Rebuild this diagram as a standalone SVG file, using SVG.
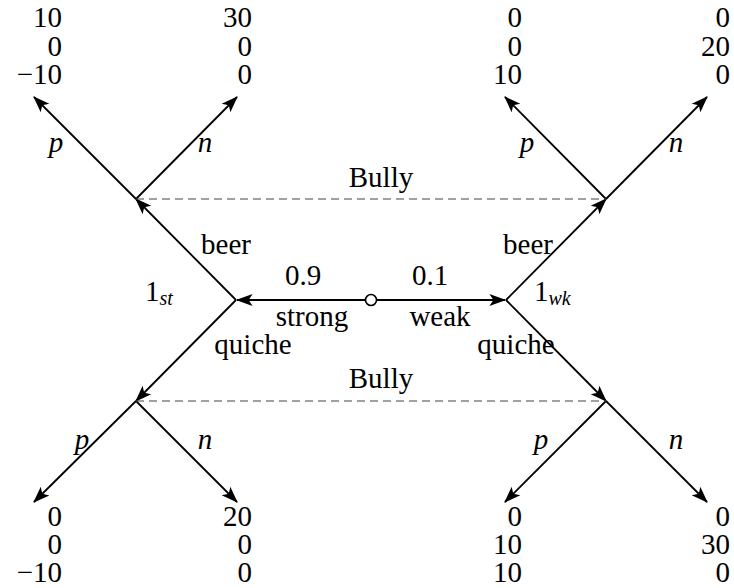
<svg xmlns="http://www.w3.org/2000/svg" width="734" height="588" viewBox="0 0 734 588">
<defs>
<marker id="ah" markerUnits="userSpaceOnUse" markerWidth="20" markerHeight="20" viewBox="-16 -8 18 16" refX="0" refY="0" orient="auto">
<path d="M1,0 L-14,-5.5 L-10.5,0 L-14,5.5 Z" fill="#000" stroke="none"/>
</marker>
</defs>
<rect width="734" height="588" fill="#fff"/>
<g id="connectors">
<g stroke="#000" stroke-width="1.8" fill="none" marker-end="url(#ah)">
<line x1="365" y1="300" x2="237" y2="300"/>
<line x1="377" y1="300" x2="505" y2="300"/>
<line x1="236" y1="300" x2="136" y2="199"/>
<line x1="236" y1="300" x2="136" y2="401"/>
<line x1="506" y1="300" x2="606" y2="199"/>
<line x1="506" y1="300" x2="606" y2="401"/>
<line x1="136" y1="199" x2="34" y2="97"/>
<line x1="136" y1="199" x2="237" y2="97"/>
<line x1="606" y1="199" x2="505" y2="97"/>
<line x1="606" y1="199" x2="707" y2="97"/>
<line x1="136" y1="401" x2="34" y2="502"/>
<line x1="136" y1="401" x2="237" y2="502"/>
<line x1="606" y1="401" x2="505" y2="502"/>
<line x1="606" y1="401" x2="707" y2="502"/>
</g>
<g stroke="#444" stroke-width="1.1" stroke-dasharray="8 5" fill="none">
<line x1="136" y1="199" x2="606" y2="199"/>
<line x1="136" y1="401" x2="606" y2="401"/>
</g>
<g font-size="29" fill="#000" text-anchor="middle">
<text font-family="Liberation Serif" font-style="italic" x="56" y="152">p</text>
<text font-family="Liberation Serif" font-style="italic" x="205" y="152">n</text>
<text font-family="Liberation Serif" font-style="italic" x="527" y="152">p</text>
<text font-family="Liberation Serif" font-style="italic" x="676" y="152">n</text>
<text font-family="Liberation Serif" font-style="italic" x="82" y="449">p</text>
<text font-family="Liberation Serif" font-style="italic" x="205" y="449">n</text>
<text font-family="Liberation Serif" font-style="italic" x="541" y="449">p</text>
<text font-family="Liberation Serif" font-style="italic" x="676" y="449">n</text>
<text font-family="Liberation Serif" x="226" y="254">beer</text>
<text font-family="Liberation Serif" x="528" y="254">beer</text>
<text font-family="Liberation Serif" x="253" y="354">quiche</text>
<text font-family="Liberation Serif" x="516" y="354">quiche</text>
<text font-family="Liberation Serif" x="303" y="285">0.9</text>
<text font-family="Liberation Serif" x="430" y="285">0.1</text>
<text font-family="Liberation Serif" x="312" y="326">strong</text>
<text font-family="Liberation Serif" x="440" y="326">weak</text>
<text font-family="Liberation Serif" x="381" y="187">Bully</text>
<text font-family="Liberation Serif" x="381" y="388">Bully</text>
</g>
</g>
<g id="chance">
<circle cx="371" cy="300" r="5.5" fill="#fff" stroke="#000" stroke-width="1.6"/>
</g>
<g id="strong-node">
<text font-family="Liberation Serif" font-size="29" x="145" y="301">1<tspan font-style="italic" font-size="20" dy="4">st</tspan></text>
</g>
<g id="weak-node">
<text font-family="Liberation Serif" font-size="29" x="534" y="301">1<tspan font-style="italic" font-size="20" dy="4">wk</tspan></text>
</g>
<g id="bully-beer-left"><circle cx="136" cy="199" r="0.1" fill="none"/></g>
<g id="bully-beer-right"><circle cx="606" cy="199" r="0.1" fill="none"/></g>
<g id="bully-quiche-left"><circle cx="136" cy="401" r="0.1" fill="none"/></g>
<g id="bully-quiche-right"><circle cx="606" cy="401" r="0.1" fill="none"/></g>
<g font-size="29" fill="#000" text-anchor="end">
<g id="leaf-1">
<text font-family="Liberation Serif" x="62" y="27">10</text><text font-family="Liberation Serif" x="62" y="56">0</text><text font-family="Liberation Serif" x="62" y="84">−10</text>
</g>
<g id="leaf-2">
<text font-family="Liberation Serif" x="252" y="27">30</text><text font-family="Liberation Serif" x="252" y="56">0</text><text font-family="Liberation Serif" x="252" y="84">0</text>
</g>
<g id="leaf-3">
<text font-family="Liberation Serif" x="522" y="27">0</text><text font-family="Liberation Serif" x="522" y="56">0</text><text font-family="Liberation Serif" x="522" y="84">10</text>
</g>
<g id="leaf-4">
<text font-family="Liberation Serif" x="730" y="27">0</text><text font-family="Liberation Serif" x="730" y="56">20</text><text font-family="Liberation Serif" x="730" y="84">0</text>
</g>
<g id="leaf-5">
<text font-family="Liberation Serif" x="62" y="526">0</text><text font-family="Liberation Serif" x="62" y="554">0</text><text font-family="Liberation Serif" x="62" y="582">−10</text>
</g>
<g id="leaf-6">
<text font-family="Liberation Serif" x="252" y="526">20</text><text font-family="Liberation Serif" x="252" y="554">0</text><text font-family="Liberation Serif" x="252" y="582">0</text>
</g>
<g id="leaf-7">
<text font-family="Liberation Serif" x="522" y="526">0</text><text font-family="Liberation Serif" x="522" y="554">10</text><text font-family="Liberation Serif" x="522" y="582">10</text>
</g>
<g id="leaf-8">
<text font-family="Liberation Serif" x="730" y="526">0</text><text font-family="Liberation Serif" x="730" y="554">30</text><text font-family="Liberation Serif" x="730" y="582">0</text>
</g>
</g>
</svg>
